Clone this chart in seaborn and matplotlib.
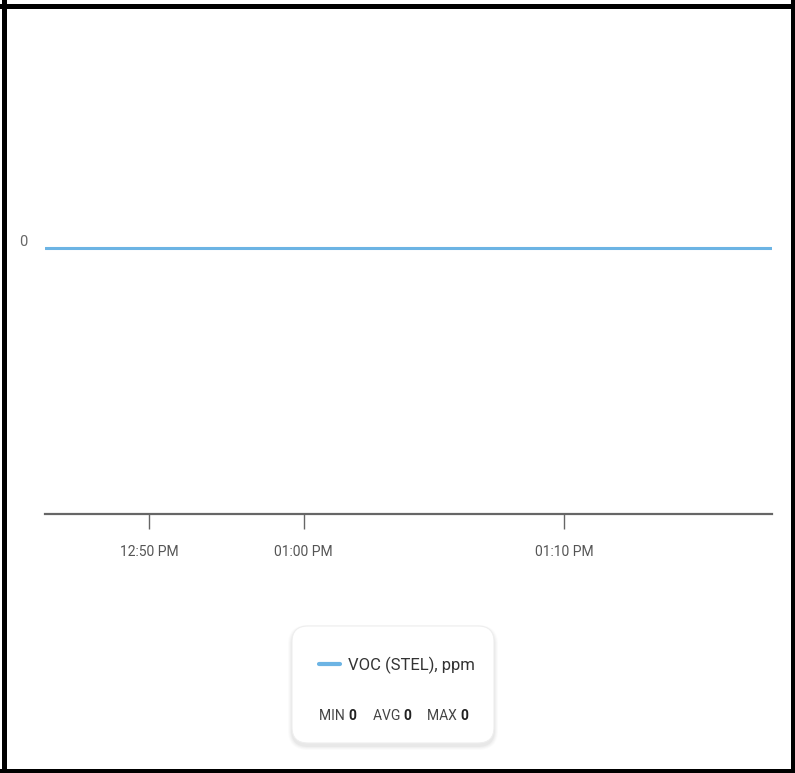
import numpy as np
import pandas as pd
import seaborn as sns
import matplotlib
matplotlib.use("Agg")
import matplotlib.pyplot as plt
from matplotlib.patches import Rectangle, FancyBboxPatch
from matplotlib.lines import Line2D
import matplotlib.transforms as mtransforms

# ---- data ----
sample_pos = [0, 14.3, 35.6, 71.4, 100]        # sample positions along time axis
voc_values = [0, 0, 0, 0, 0]                   # VOC (STEL), ppm
tick_pos = [14.3, 35.6, 71.4]
tick_labels = ["12:50 PM", "01:00 PM", "01:10 PM"]
series_name = "VOC (STEL), ppm"
stat_names = ["MIN", "AVG", "MAX"]
stat_values = ["0", "0", "0"]

W, H = 795, 773
sns.set_theme(style="white")
plt.rcParams['font.family'] = ['Roboto', 'DejaVu Sans']

fig = plt.figure(figsize=(W / 100, H / 100), dpi=100)
fig.patch.set_facecolor("white")

def fx(x): return x / W
def fy(y): return 1 - y / H

L, R, T, B = 45, 772, 20, 514
ax = fig.add_axes([fx(L), fy(B), fx(R) - fx(L), (B - T) / H])
ax.set_facecolor("white")

df = pd.DataFrame({"t": sample_pos, "v": voc_values})
sns.lineplot(data=df, x="t", y="v", ax=ax, color="#6cb4e4", lw=2.2)

ax.set_xlim(0, 100)
ax.set_ylim(-266 / 228, 1)
ax.set_xlabel("")
ax.set_ylabel("")
for s in ["top", "right", "left"]:
    ax.spines[s].set_visible(False)
ax.spines["bottom"].set_color("#666666")
ax.spines["bottom"].set_linewidth(1.6)

ax.set_xticks(tick_pos)
ax.set_xticklabels(tick_labels)
ax.tick_params(axis="x", bottom=True, direction="out", length=10.5, width=1,
               color="#666666", pad=11.5, labelsize=10, labelcolor="#555555")
ax.set_yticks([0])
ax.set_yticklabels(["0"])
ax.tick_params(axis="y", left=False, length=0, pad=13, labelsize=10.5, labelcolor="#666666")
off = mtransforms.ScaledTranslation(0, 8 / 100, fig.dpi_scale_trans)
for lbl in ax.get_yticklabels():
    lbl.set_transform(lbl.get_transform() + off)

# ---- legend card ----
bx0, by0, bx1, by1 = 292, 626, 494, 743
rad = 16
for i, a in enumerate([0.015, 0.02, 0.025, 0.03]):
    g = 8 - 2 * i
    sh = FancyBboxPatch((fx(bx0 - g / 2), fy(by1 + 3 + g / 2)),
                        fx(bx1 - bx0 + g), (by1 - by0 + g) / H,
                        boxstyle=f"round,pad=0,rounding_size={(rad + g / 2) / W}",
                        transform=fig.transFigure, facecolor="black", edgecolor="none",
                        alpha=a, zorder=1)
    fig.patches.append(sh)
card = FancyBboxPatch((fx(bx0), fy(by1)), fx(bx1 - bx0), (by1 - by0) / H,
                      boxstyle=f"round,pad=0,rounding_size={rad / W}",
                      transform=fig.transFigure, facecolor="white",
                      edgecolor="#eeeeee", lw=0.8, zorder=2)
fig.patches.append(card)
fig.lines.append(Line2D([fx(319), fx(340)], [fy(664), fy(664)], transform=fig.transFigure,
                        color="#6cb4e4", lw=3, zorder=3))
fig.text(fx(348), fy(665), series_name, fontsize=12, color="#333333", va="center",
         ha="left", zorder=3)
stat_x = [319, 373, 427]
for x, n, v in zip(stat_x, stat_names, stat_values):
    t = fig.text(fx(x), fy(716), n + " ", fontsize=10, color="#444444", va="center",
                 ha="left", zorder=3)
    fig.canvas.draw()
    bb = t.get_window_extent()
    fig.text(bb.x1 / W, fy(716), v, fontsize=10, fontweight="bold", color="#222222",
             va="center", ha="left", zorder=3)

# ---- black frame ----
for (x0, y0, x1, y1) in [(0, 4, 795, 9), (2, 0, 7, 773), (791, 0, 795, 773), (0, 769, 795, 773)]:
    fig.patches.append(Rectangle((fx(x0), fy(y1)), fx(x1 - x0), (y1 - y0) / H,
                                 transform=fig.transFigure, facecolor="black",
                                 edgecolor="none", zorder=10))

fig.savefig("out.png", dpi=100, facecolor="white")
